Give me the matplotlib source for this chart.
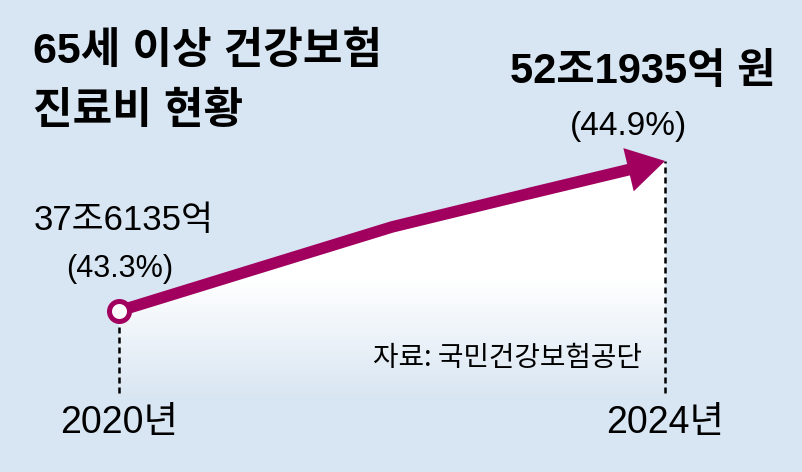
import numpy as np
import matplotlib
matplotlib.use("Agg")
import matplotlib.pyplot as plt
from matplotlib import font_manager
from matplotlib.transforms import blended_transform_factory

# Data (trillion won, 65+ health insurance medical expenses)
years = [2020, 2021, 2022, 2023, 2024]
values = [37.6135, 41.70, 45.78, 49.01, 52.1935]
first_label = "37조6135억"
first_share = "(43.3%)"
last_label = "52조1935억 원"
last_share = "(44.9%)"
year_labels = ["2020년", "2024년"]
title_lines = ["65세 이상 건강보험", "진료비 현황"]
source = "자료: 국민건강보험공단"

# Colours
bg = "#d8e5f2"
line_color = "#a2005e"

# Fonts: narrow latin digits if available, Korean fallback
installed = {f.name for f in font_manager.fontManager.ttflist}
narrow = "Liberation Sans Narrow" if "Liberation Sans Narrow" in installed else "Liberation Sans"
reg_font = [narrow, "Noto Sans CJK KR", "DejaVu Sans"]
bold_font = ["Liberation Sans", "Noto Sans CJK KR", "DejaVu Sans"]

fig = plt.figure(figsize=(8.03, 4.72), dpi=100)
fig.patch.set_facecolor(bg)
ax = fig.add_axes([0, 0, 1, 1])
ax.set_facecolor(bg)

x0, x1 = 2019.128, 2025.011
y0, y1 = 21.96, 67.84
fill_bottom = 28.9
dash_bottom = 29.6

# gradient fill under the line: white near the line, fading into the background
poly = ax.fill_between(years, values, fill_bottom, facecolor="none", edgecolor="none")
grad_top = y1 - (y1 - y0) * 280 / 472
n = 256
img = np.ones((n, 1, 4))
img[:, 0, 3] = np.linspace(0, 1, n)
im = ax.imshow(img, extent=[years[0], years[-1], fill_bottom, grad_top],
               origin="lower", aspect="auto", zorder=1, interpolation="bilinear")
im.set_clip_path(poly.get_paths()[0], transform=ax.transData)
ax.fill_between(years, values, grad_top, where=np.array(values) > grad_top,
                color="white", lw=0, zorder=1, interpolate=True)

# dashed guides
ax.vlines([years[0], years[-1]], dash_bottom, [values[0], values[-1]],
          colors="black", lw=1.8, linestyles=(0, (2.4, 1.6)), zorder=2)

# line + arrow
ax.plot(years[:-1], values[:-1], color=line_color, lw=8.3,
        solid_capstyle="round", solid_joinstyle="round", zorder=3)
ax.annotate("", xy=(years[-1], values[-1]), xytext=(years[-2], values[-2]),
            arrowprops=dict(arrowstyle="simple,head_length=1.35,head_width=1.6,tail_width=0.42",
                            mutation_scale=20, fc=line_color, ec="none", lw=0,
                            shrinkA=0, shrinkB=0), zorder=3)
ax.plot(years[0], values[0], "o", ms=14.4, mfc="white", mec=line_color, mew=3.6, zorder=4)

# value labels
ax.annotate(first_label, (years[0], values[0]), xytext=(3.6, 65), textcoords="offset points",
            ha="center", va="center", fontsize=25, family=reg_font)
ax.annotate(first_share, (years[0], values[0]), xytext=(0.7, 30), textcoords="offset points",
            ha="center", va="center", fontsize=22, family=reg_font)
ax.annotate(last_label, (years[-1], values[-1]), xytext=(-16, 64), textcoords="offset points",
            ha="center", va="center", fontsize=30, family=bold_font, weight="bold")
ax.annotate(last_share, (years[-1], values[-1]), xytext=(-26, 25), textcoords="offset points",
            ha="center", va="center", fontsize=24, family=reg_font)

# year labels
trans = blended_transform_factory(ax.transData, ax.transAxes)
for yr, lab in zip([years[0], years[-1]], year_labels):
    ax.text(yr, 0.104, lab, transform=trans, ha="center", va="center",
            fontsize=27, family=reg_font)

# title and source
for ty, line in zip([0.8665, 0.739], title_lines):
    ax.text(0.041, ty, line, transform=ax.transAxes, ha="left", va="baseline",
            fontsize=31, family=reg_font, weight="bold")
ax.text(0.7995, 0.2415, source, transform=ax.transAxes, ha="right", va="center",
        fontsize=20, family=["Noto Sans CJK KR", "DejaVu Sans"])

ax.set_xlim(x0, x1)
ax.set_ylim(y0, y1)
ax.axis("off")

fig.savefig("out.png", dpi=100, facecolor=bg)
